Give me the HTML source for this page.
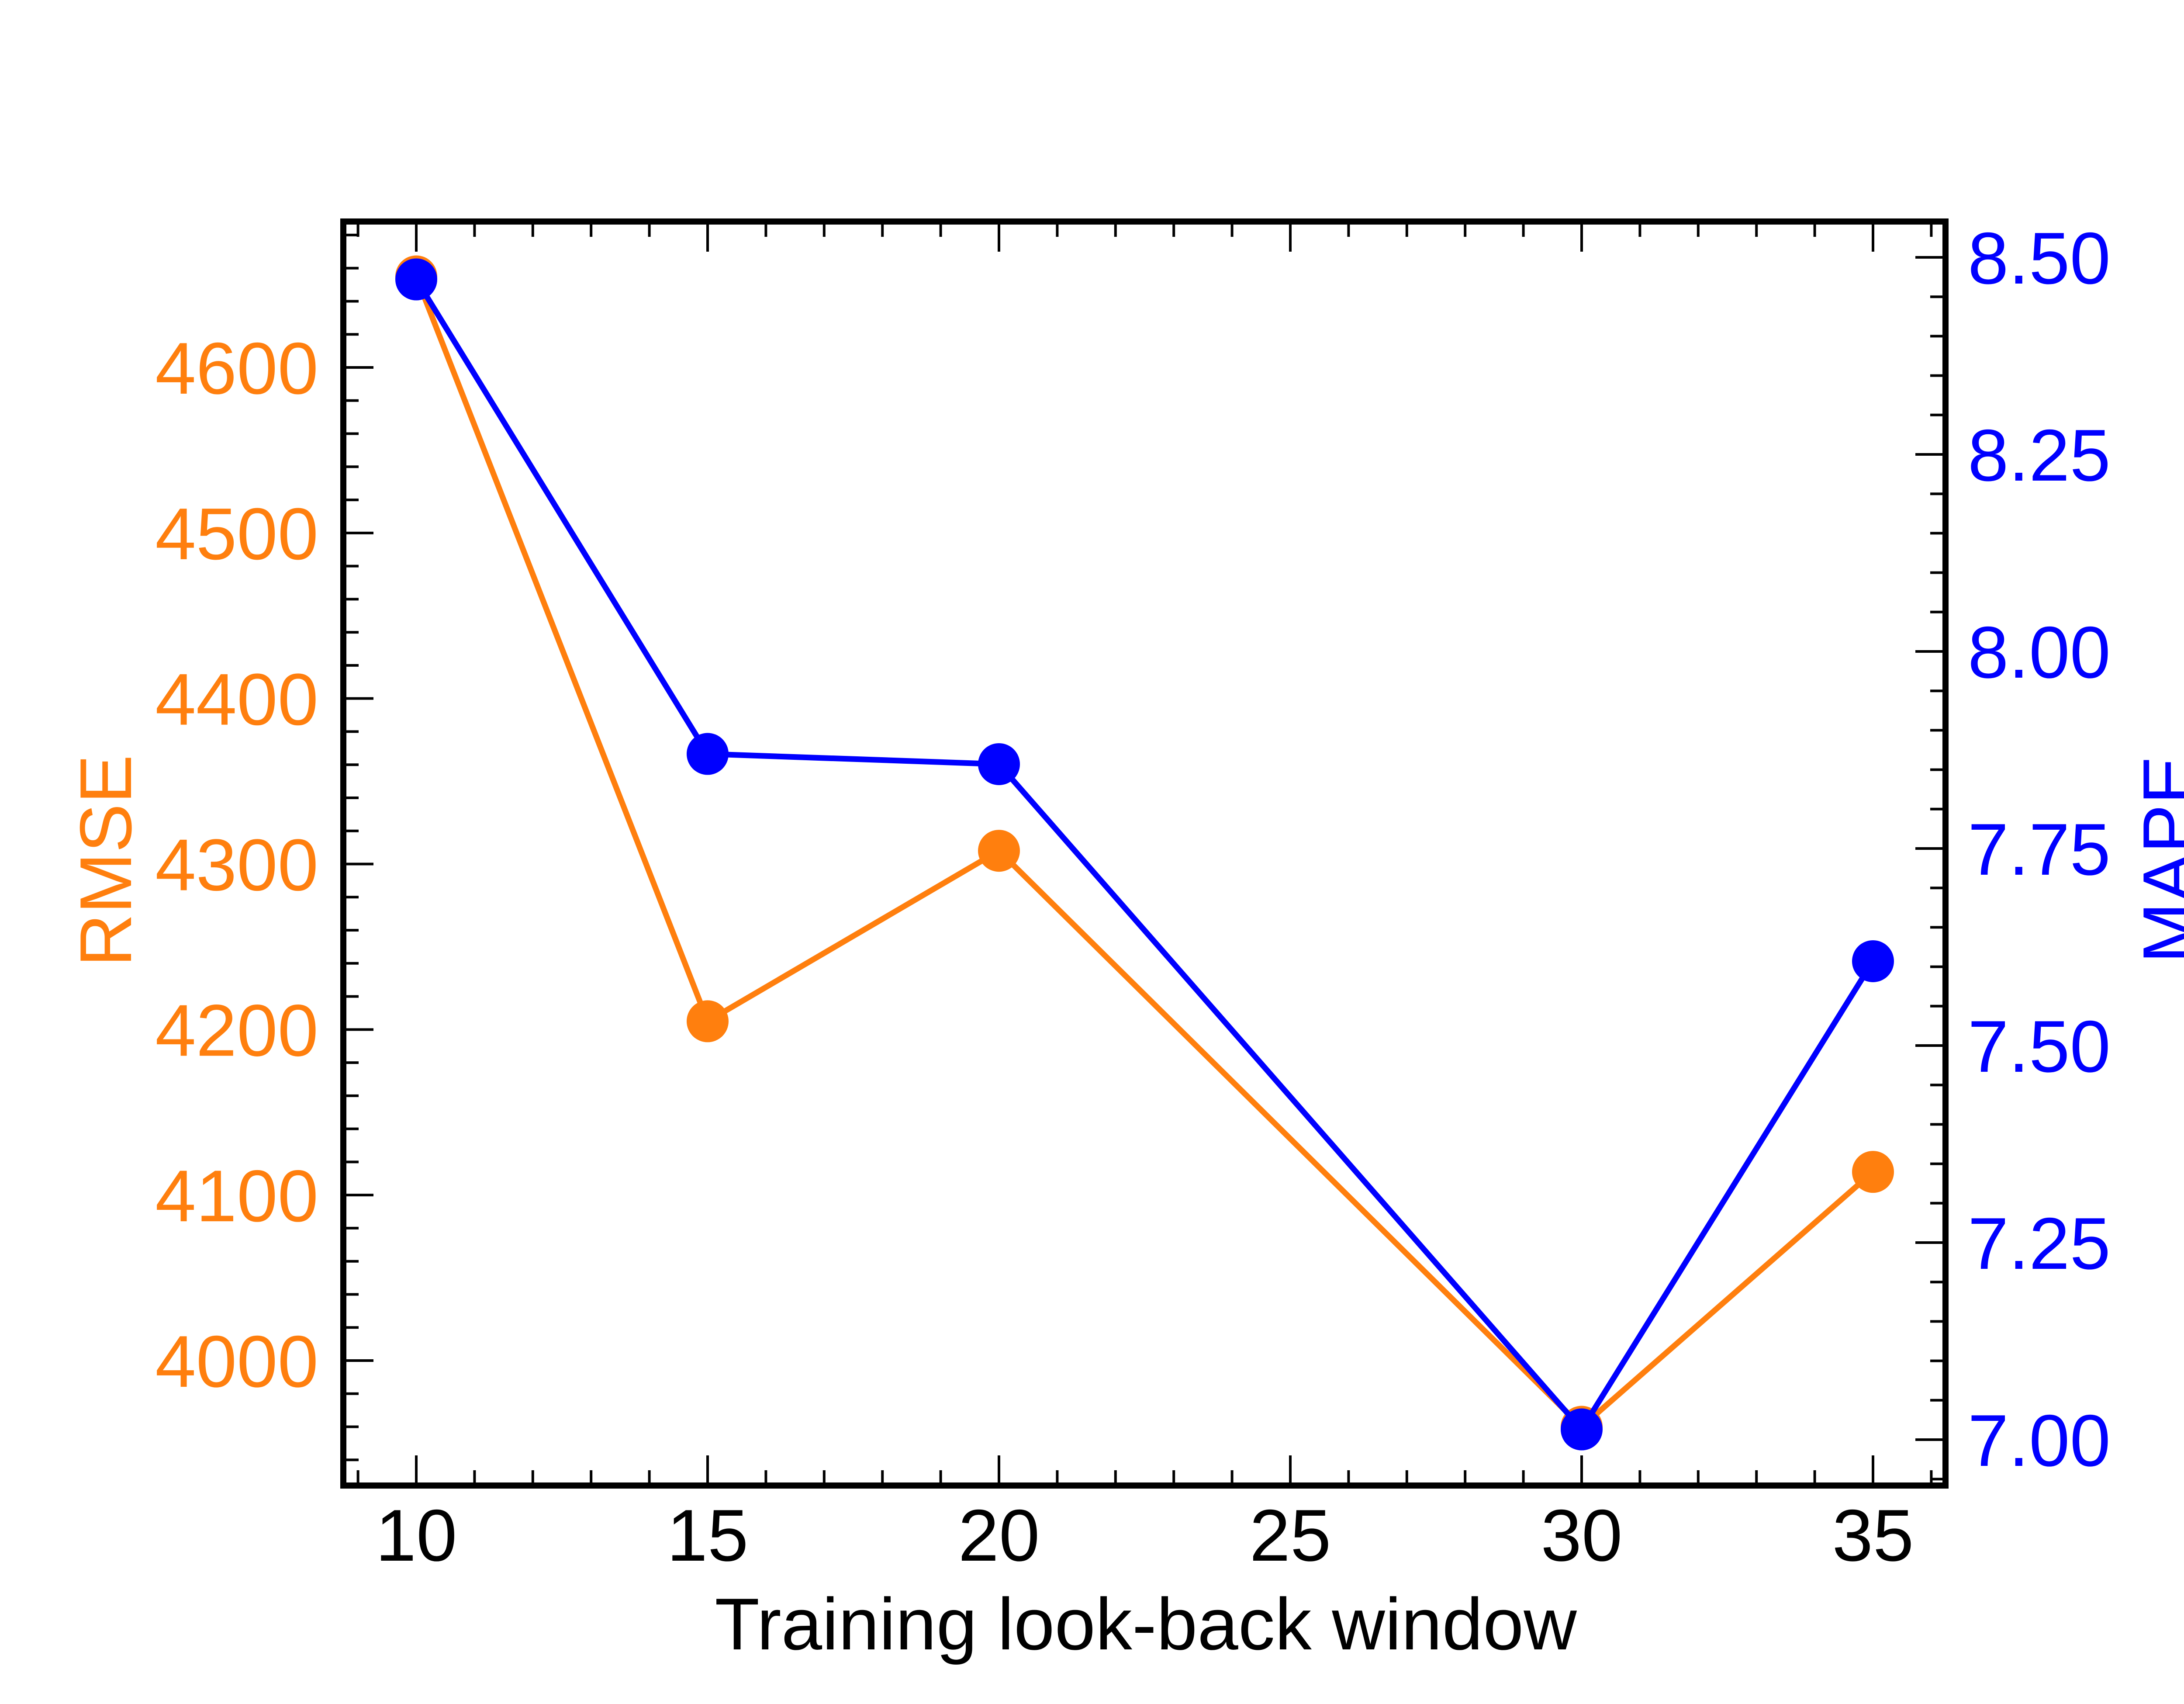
<!DOCTYPE html>
<html><head><meta charset="utf-8"><style>
html,body{margin:0;padding:0;background:#fff;}
svg{display:block;font-family:"Liberation Sans",sans-serif;}
</style></head><body>
<svg id="chart" width="5240" height="3900" viewBox="0 0 5240 3900" xmlns="http://www.w3.org/2000/svg">
<rect width="5240" height="3900" fill="#fff"/>
<g id="g"></g>
</svg>
<script>
const categories=[10,15,20,30,35];
const rmseValues=[4655,4205,4308,3960,4114];
const mapeValues=[8.472,7.87,7.857,7.013,7.607];
const xTicks=[10,15,20,25,30,35];
const leftTicks=[4000,4100,4200,4300,4400,4500,4600];
const rightTicks=[7.00,7.25,7.50,7.75,8.00,8.25,8.50];

const L=786,R=4454,T=507,B=3400;
const xs=v=>953+(v-10)*(4288-953)/25;
const yl=v=>3114-(v-4000)*(3114-841)/600;
const yr=v=>3295-(v-7)*(3295-589)/1.5;
const NS="http://www.w3.org/2000/svg";
const g=document.getElementById('g');
function el(t,a,txt){const e=document.createElementNS(NS,t);for(const k in a)e.setAttribute(k,a[k]);if(txt!==undefined)e.textContent=txt;g.appendChild(e);return e;}
function line(x1,y1,x2,y2){return el('line',{x1,y1,x2,y2,stroke:'#000','stroke-width':6});}

for(let v=9;v<=36;v++){
  const x=xs(v); if(x<L+8||x>R-8) continue;
  const major=xTicks.includes(v); const len=major?69:35;
  let t=line(x,B,x,B-len);  
  t=line(x,T,x,T+len);  
}
xTicks.forEach(v=>{
  const t=el('text',{x:xs(v),y:3572,'font-size':168,'text-anchor':'middle',fill:'#000'},String(v));
   
});
for(let v=3940;v<=4680;v+=20){
  const y=yl(v); if(y<T+8||y>B-8) continue;
  const major=v%100===0; const len=major?69:35;
  const t=line(L,y,L+len,y);  
}
leftTicks.forEach(v=>{
  const t=el('text',{x:729,y:yl(v)+60,'font-size':168,'text-anchor':'end',fill:'#ff7f0e'},String(v));
   
});
for(let k=0;k<=32;k++){
  const v=6.9+k*0.05; const y=yr(v); if(y<T+8||y>B-8) continue;
  const major=Math.abs((v*4)-Math.round(v*4))<1e-6; const len=major?69:35;
  const t=line(R,y,R-len,y);  
}
rightTicks.forEach(v=>{
  const t=el('text',{x:4505,y:yr(v)+60,'font-size':168,'text-anchor':'start',fill:'#0000ff'},v.toFixed(2));
   
});
function series(vals,sc,color,name){
  const pts=vals.map((v,i)=>xs(categories[i])+','+sc(v)).join(' ');
  const p=el('polyline',{points:pts,fill:'none',stroke:color,'stroke-width':13});
   
  vals.forEach((v,i)=>{
    const c=el('circle',{cx:xs(categories[i]),cy:sc(v),r:48,fill:color});
     
  });
}
series(rmseValues,yl,'#ff7f0e','rmse');
series(mapeValues,yr,'#0000ff','mape');
const f=el('rect',{x:L,y:T,width:R-L,height:B-T,fill:'none',stroke:'#000','stroke-width':14});
 
let t=el('text',{x:2623,y:3775,'font-size':168,'text-anchor':'middle',fill:'#000'},'Training look-back window');
 
t=el('text',{x:0,y:0,'font-size':168,'text-anchor':'middle',fill:'#ff7f0e',transform:'translate(300,1970) rotate(-90)'},'RMSE');
 
t=el('text',{x:0,y:0,'font-size':168,'text-anchor':'middle',fill:'#0000ff',transform:'translate(5023,1967) rotate(-90)'},'MAPE');
 
</script>
</body></html>
